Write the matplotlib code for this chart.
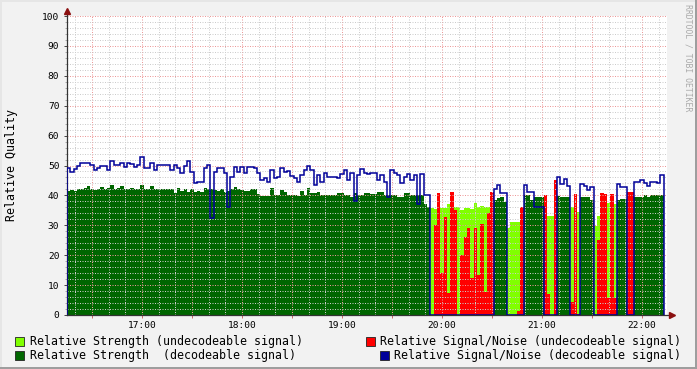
import numpy as np
import matplotlib
matplotlib.use("Agg")
import matplotlib.pyplot as plt
from matplotlib.patches import Rectangle
from matplotlib.lines import Line2D

# --- data (2-minute samples starting at 16:15) ---
start_time = "16:15"
step_minutes = 2

strength = [
    41.6, 41.9, 41.6, 42.3, 42.3, 42.5, 43.0, 42.3, 41.8, 42.3,
    42.8, 42.3, 42.6, 43.5, 42.3, 42.5, 43.2, 42.3, 42.3, 42.6,
    42.0, 42.3, 43.5, 42.3, 42.3, 43.2, 42.3, 42.3, 42.0, 42.3,
    42.3, 42.0, 40.8, 42.6, 41.5, 42.0, 41.2, 42.3, 41.3, 41.5,
    41.2, 42.5, 42.3, 42.0, 41.8, 41.6, 42.0, 41.2, 41.5, 42.3,
    42.8, 42.3, 41.8, 41.6, 41.6, 42.0, 42.0, 40.5, 39.8, 39.8,
    39.8, 42.4, 40.1, 40.1, 41.8, 41.2, 40.3, 40.1, 40.1, 39.8,
    41.6, 40.1, 42.4, 40.7, 40.7, 41.2, 40.1, 40.1, 40.1, 40.1,
    40.1, 40.9, 40.9, 40.1, 40.1, 39.6, 40.7, 40.1, 40.1, 40.9,
    40.9, 40.5, 40.5, 41.2, 41.2, 40.1, 40.1, 40.1, 40.1, 39.6,
    39.6, 40.7, 40.7, 40.1, 40.1, 40.1, 40.1, 37.0, 36.2, 35.7,
    35.4, 35.7, 35.7, 35.7, 37.0, 37.0, 36.2, 36.2, 35.0, 35.7,
    35.7, 35.5, 37.3, 36.2, 36.5, 36.0, 36.0, 36.0, 38.5, 39.2,
    39.6, 37.9, 29.0, 31.2, 31.2, 31.2, 31.2, 40.1, 40.1, 38.5,
    39.6, 39.6, 39.6, 35.6, 33.1, 33.1, 30.6, 39.9, 39.5, 39.5,
    39.5, 36.0, 34.5, 34.3, 39.6, 39.6, 39.6, 38.3, 29.7, 33.1,
    33.0, 33.0, 37.5, 37.5, 37.0, 38.5, 38.7, 38.7, 36.0, 36.0,
    39.6, 39.6, 39.6, 40.0, 39.6, 40.0, 40.2, 40.2, 40.2,
]

signal_noise = [
    49.1, 47.9, 48.9, 50.0, 50.9, 50.9, 50.9, 50.2, 48.5, 49.0,
    50.0, 50.0, 48.5, 51.6, 50.2, 50.2, 50.9, 49.6, 50.9, 50.5,
    49.6, 50.2, 52.7, 49.1, 49.1, 50.9, 48.5, 50.2, 50.2, 50.2,
    50.2, 48.5, 50.2, 49.0, 47.6, 50.0, 51.6, 47.9, 44.0, 44.6,
    44.6, 49.0, 50.2, 32.5, 47.9, 49.1, 49.1, 47.4, 36.0, 46.3,
    49.6, 47.9, 49.6, 47.4, 49.6, 49.6, 49.1, 47.4, 45.2, 45.8,
    44.6, 48.5, 45.8, 46.1, 49.1, 47.9, 48.3, 46.5, 45.8, 44.6,
    46.8, 48.5, 49.8, 48.5, 43.5, 46.8, 44.6, 47.6, 46.1, 46.1,
    46.1, 45.8, 47.2, 48.5, 45.2, 47.4, 38.0, 46.8, 48.7, 47.4,
    47.2, 47.4, 47.6, 45.2, 46.8, 44.6, 39.6, 48.5, 47.6, 46.8,
    44.0, 46.3, 47.2, 45.2, 46.8, 37.0, 47.2, 40.1, 40.1, 0.0,
    30.1, 40.7, 14.0, 32.8, 7.2, 41.2, 35.0, 0.0, 20.0, 26.0,
    29.0, 12.3, 29.0, 13.3, 30.6, 7.7, 34.2, 41.2, 42.0, 43.4,
    40.9, 40.9, 0.0, 0.0, 0.0, 1.2, 36.2, 43.4, 41.2, 41.2,
    36.2, 36.2, 36.2, 40.1, 7.0, 0.0, 45.2, 46.3, 43.7, 45.5,
    43.0, 4.5, 40.4, 0.5, 43.7, 43.0, 41.9, 42.7, 0.0, 25.0,
    40.7, 40.5, 5.6, 40.4, 5.6, 43.7, 42.7, 42.7, 41.2, 41.2,
    44.6, 44.6, 45.2, 44.0, 43.0, 44.6, 44.6, 44.3, 46.8,
]

undecodeable_spans = [
    ("19:53", "20:31"), ("20:39", "20:49"), ("21:01", "21:09"),
    ("21:17", "21:23"), ("21:31", "21:45"), ("21:51", "21:55"),
]

hour_labels = ["17:00", "18:00", "19:00", "20:00", "21:00", "22:00"]
legend_labels = [
    "Relative Strength (undecodeable signal)",
    "Relative Strength  (decodeable signal)",
    "Relative Signal/Noise (undecodeable signal)",
    "Relative Signal/Noise (decodeable signal)",
]

LIGHT = "#80ff00"
DARK = "#006600"
RED = "#ff0000"
BLUE = "#000099"
BACK = "#f2f2f2"
MONO = "DejaVu Sans Mono"


def to_minutes(hhmm):
    h, m = hhmm.split(":")
    return int(h) * 60 + int(m)


n = len(strength)
t0 = to_minutes(start_time)
edges = t0 + step_minutes * np.arange(n + 1)
starts = edges[:-1]
undec = np.zeros(n, dtype=bool)
for a, b in undecodeable_spans:
    undec |= (starts >= to_minutes(a)) & (starts < to_minutes(b))

strength = np.array(strength)
signal_noise = np.array(signal_noise)
str_undec = np.where(undec, strength, 0)
str_dec = np.where(undec, 0, strength)
snr_undec = np.where(undec, signal_noise, 0)
snr_dec = np.where(undec, 0, signal_noise)

W, H = 697, 369
fig = plt.figure(figsize=(W / 100, H / 100), dpi=100, facecolor=BACK)
ax = fig.add_axes([67 / W, (H - 315) / H, 600 / W, 299 / H])
ax.set_facecolor("white")

ax.stairs(str_undec, edges, fill=True, color=LIGHT, lw=0, zorder=1)
ax.stairs(str_dec, edges, fill=True, color=DARK, lw=0, zorder=1.1)
ax.stairs(snr_undec, edges, fill=True, color=RED, lw=0, zorder=1.2)
ax.stairs(snr_dec, edges, baseline=0, color=BLUE, lw=1.1, zorder=3)

ax.set_xlim(t0, t0 + 360)
ax.set_ylim(0, 100)

# grid (drawn over the areas, like rrdtool)
hours = [to_minutes(s) for s in hour_labels]
major_x = np.arange(t0 + 15, t0 + 361, 30)
ax.set_xticks(major_x)
ax.set_xticklabels([f"{m // 60}:{m % 60:02d}" if m in hours else "" for m in major_x])
ax.set_xticks(np.arange(t0 + 5, t0 + 361, 10), minor=True)
ax.set_yticks(np.arange(0, 101, 10))
ax.set_yticks(np.arange(0, 101, 2), minor=True)
ax.set_axisbelow(False)
dots = (0, (1, 1.5))
ax.grid(which="minor", color=(0.8, 0.8, 0.8, 0.55), ls=dots, lw=0.72)
ax.grid(which="major", color=(0.93, 0.6, 0.6, 0.75), ls=dots, lw=0.72)

for s in ax.spines.values():
    s.set_visible(False)
ax.tick_params(axis="both", which="both", labelsize=6.8, labelfontfamily=MONO)
ax.tick_params(axis="y", which="major", length=2, width=0.7, color="#444444", pad=3.5)
ax.tick_params(axis="y", which="minor", length=1.5, width=0.7, color="#aaaaaa")
ax.tick_params(axis="x", which="major", length=2, width=0.7, color="#cc6666", pad=2)
ax.tick_params(axis="x", which="minor", length=0)

fig.text(11.5 / W, 1 - 165 / H, "Relative Quality", rotation=90,
         ha="center", va="center", fontsize=8.4, family=MONO)

# axis lines with arrows
ax.add_line(Line2D([0, 0], [0, 1 + 5 / 299], transform=ax.transAxes,
                   color="#333333", lw=0.9, clip_on=False, zorder=2.8))
ax.add_line(Line2D([0, 1 + 5 / 600], [0, 0], transform=ax.transAxes,
                   color="#333333", lw=0.9, clip_on=False, zorder=2.8))
ax.plot([0], [1 + 5 / 299], marker="^", ms=4.5, color="#8b1010",
        transform=ax.transAxes, clip_on=False, zorder=4)
ax.plot([1 + 5 / 600], [0], marker=">", ms=4.5, color="#8b1010",
        transform=ax.transAxes, clip_on=False, zorder=4)

# watermark
fig.text(688 / W, 1 - 4 / H, "RRDTOOL / TOBI OETIKER", rotation=270,
         ha="center", va="top", fontsize=5.9, family=MONO, color="#aaaaaa")

# legend
legend_items = [
    (15, 341, LIGHT, 30, legend_labels[0]),
    (15, 355, DARK, 30, legend_labels[1]),
    (366, 341, RED, 380, legend_labels[2]),
    (380, 355, BLUE, 394, legend_labels[3]),
]
for bx, cy, col, tx, label in legend_items:
    fig.add_artist(Rectangle((bx / W, 1 - (cy + 4.5) / H), 9 / W, 9 / H,
                             transform=fig.transFigure, facecolor=col,
                             edgecolor="#222222", lw=0.6))
    fig.text(tx / W, 1 - cy / H, label, ha="left", va="center",
             fontsize=8.4, family=MONO)

# 3d frame
fig.add_artist(Rectangle((0, 1 - 2 / H), 1, 2 / H, transform=fig.transFigure,
                         color="#e6e6e6", lw=0))
fig.add_artist(Rectangle((0, 0), 2 / W, 1, transform=fig.transFigure,
                         color="#e6e6e6", lw=0))
fig.add_artist(Rectangle((0, 0), 1, 2 / H, transform=fig.transFigure,
                         color="#9e9e9e", lw=0))
fig.add_artist(Rectangle((1 - 2 / W, 0), 2 / W, 1, transform=fig.transFigure,
                         color="#9e9e9e", lw=0))

fig.savefig("out.png", dpi=100, facecolor=fig.get_facecolor())
